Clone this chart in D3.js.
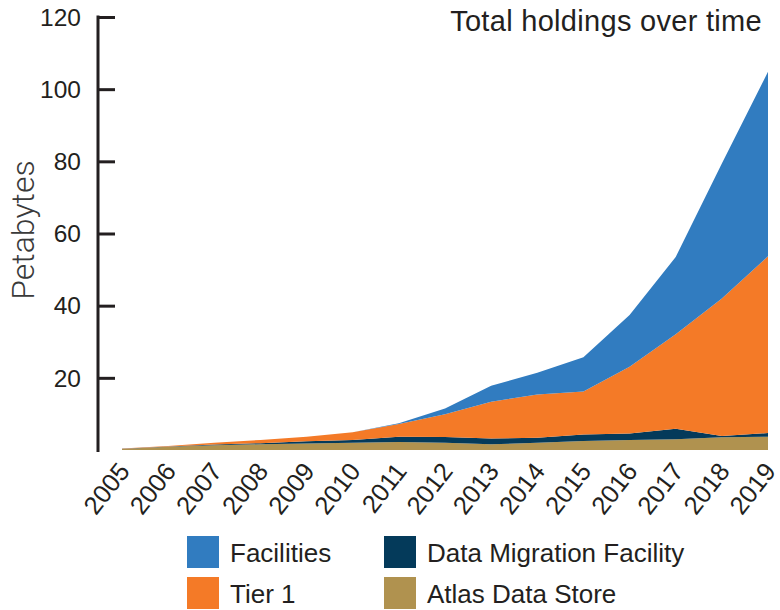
<!DOCTYPE html>
<html><head><meta charset="utf-8">
<script src="https://cdn.jsdelivr.net/npm/d3@7"></script>
<style>body{margin:0;background:#fff}svg{display:block;font-family:"Liberation Sans",Arial,sans-serif}</style>
</head><body><svg id="c" width="780" height="610"></svg>
<script>
const years = [2005,2006,2007,2008,2009,2010,2011,2012,2013,2014,2015,2016,2017,2018,2019];
const atlas = [0.3,0.9,1.3,1.6,1.8,2.0,2.2,2.0,1.6,2.0,2.5,2.8,3.0,3.5,3.7];
const dmf = [0.05,0.1,0.2,0.3,0.6,0.8,1.5,1.6,1.6,1.4,1.8,1.8,2.9,0.4,1.0];
const tier1 = [0.05,0.1,0.5,0.9,1.3,2.1,3.5,6.3,10.2,12.0,11.9,18.5,26.2,38.1,49.0];
const facilities = [0,0,0,0,0,0,0.2,1.6,4.4,6.0,9.5,14.3,21.4,37.4,51.1];
const yTicks = [20,40,60,80,100,120];
const seriesNames = ["Atlas Data Store","Data Migration Facility","Tier 1","Facilities"];
const colors = ["#b0924f","#043a5a","#f47a27","#317cc0"];
const title = "Total holdings over time";
const yLabel = "Petabytes";

const svg = d3.select("#c");
const data = years.map((y,i)=>({year:y, a:atlas[i], d:dmf[i], t:tier1[i], f:facilities[i]}));
const keys = ["a","d","t","f"];
const stack = d3.stack().keys(keys)(data);
const x = d3.scaleLinear().domain([2005,2019]).range([122,768]);
const y = d3.scaleLinear().domain([0,120]).range([450,17]);
const area = d3.area().x(d=>x(d.data.year)).y0(d=>y(d[0])).y1(d=>y(d[1]));
svg.append("g").selectAll("path").data(stack).join("path")
  .attr("d",area).attr("fill",(d,i)=>colors[i]);

// y axis
const ya = svg.append("g").attr("transform","translate(98,0)")
  .call(d3.axisRight(y).tickValues(yTicks).tickSize(17).tickFormat(""));
ya.select(".domain").remove();
ya.selectAll("line").attr("stroke","#231f20").attr("stroke-width",3);
svg.append("line").attr("x1",98).attr("x2",98).attr("y1",y(120)-1.5).attr("y2",452)
  .attr("stroke","#231f20").attr("stroke-width",3);
svg.append("g").selectAll("text").data(yTicks).join("text")
  .attr("x",81).attr("y",d=>y(d)).attr("dy","0.36em").attr("text-anchor","end")
  .attr("font-size",24.5).attr("fill","#231f20").text(d=>d);
svg.append("text").attr("transform","translate(34,230) rotate(-90)").attr("text-anchor","middle")
  .attr("font-family","Roboto").attr("font-weight",300)
  .attr("font-size",32).attr("fill","#3a3a3a").text(yLabel);

// x labels
svg.append("g").selectAll("text").data(years).join("text")
  .attr("transform",d=>`translate(${x(d)+2},${466}) rotate(-52)`)
  .attr("text-anchor","end").attr("dy","0.35em")
  .attr("font-size",25.5).attr("fill","#231f20").text(d=>d);

svg.append("text").attr("x",762).attr("y",31).attr("text-anchor","end")
  .attr("font-size",29).attr("letter-spacing",0.3).attr("fill","#231f20").text(title);

// legend
const legendItems = [
  {n:"Facilities",c:colors[3],x:187,y:536},
  {n:"Data Migration Facility",c:colors[1],x:384,y:536},
  {n:"Tier 1",c:colors[2],x:187,y:577},
  {n:"Atlas Data Store",c:colors[0],x:384,y:577}
];
const lg = svg.append("g").selectAll("g").data(legendItems).join("g")
  .attr("transform",d=>`translate(${d.x},${d.y})`);
lg.append("rect").attr("width",32).attr("height",32).attr("fill",d=>d.c);
lg.append("text").attr("x",43).attr("y",17).attr("dy","0.36em").attr("font-size",26)
  .attr("fill","#231f20").text(d=>d.n);
</script></body></html>
